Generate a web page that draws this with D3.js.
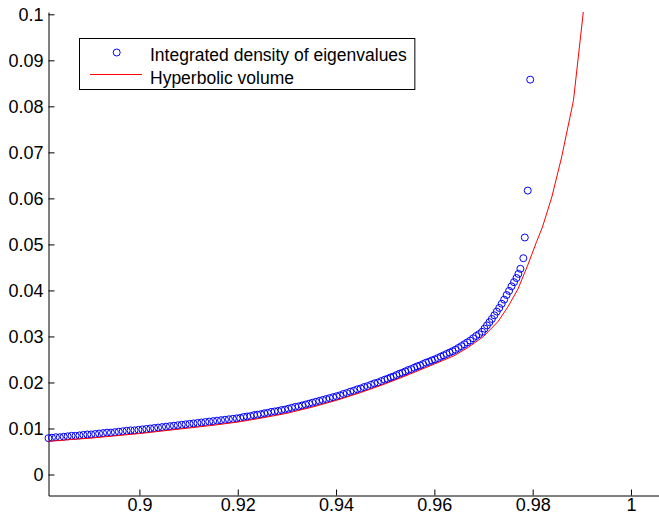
<!DOCTYPE html>
<html>
<head>
<meta charset="utf-8">
<script src="https://cdn.jsdelivr.net/npm/d3@7"></script>
<style>
  html, body { margin: 0; padding: 0; background: #fff; }
  svg { display: block; }
  text { font-family: "Liberation Sans", Arial, Helvetica, sans-serif; fill: #000; }
</style>
</head>
<body>
<div id="chart"></div>
<script>
// eigenvalue points (circles)
const eigX = [
  0.8815, 0.8822, 0.8830, 0.8838, 0.8846, 0.8854, 0.8862, 0.8870, 0.8878, 0.8886,
  0.8894, 0.8902, 0.8910, 0.8918, 0.8926, 0.8934, 0.8942, 0.8950, 0.8958, 0.8966,
  0.8974, 0.8982, 0.8990, 0.8998, 0.9006, 0.9014, 0.9022, 0.9030, 0.9038, 0.9046,
  0.9054, 0.9062, 0.9070, 0.9078, 0.9086, 0.9094, 0.9102, 0.9110, 0.9118, 0.9126,
  0.9134, 0.9142, 0.9150, 0.9158, 0.9166, 0.9174, 0.9182, 0.9190, 0.9198,
  0.9205, 0.9212, 0.9219, 0.9226, 0.9233, 0.9240, 0.9247, 0.9254, 0.9261, 0.9268,
  0.9275, 0.9282, 0.9289, 0.9296, 0.9303, 0.9310, 0.9317, 0.9324, 0.9331, 0.9338,
  0.9345, 0.9352, 0.9359, 0.9366, 0.9373, 0.9380, 0.9387, 0.9394, 0.9401, 0.9408,
  0.9415, 0.9422, 0.9429, 0.9436, 0.9443, 0.9450, 0.9457, 0.9464, 0.9471, 0.9478,
  0.9485, 0.9492, 0.9499,
  0.9505, 0.9511, 0.9517, 0.9523, 0.9529, 0.9535, 0.9541, 0.9547, 0.9553, 0.9559,
  0.9565, 0.9571, 0.9577, 0.9583, 0.9589, 0.9595, 0.9601, 0.9607, 0.9613, 0.9619,
  0.9625, 0.9631, 0.9637, 0.9643, 0.9649, 0.9655, 0.9661, 0.9667, 0.9673, 0.9679,
  0.9685, 0.9691, 0.9697,
  0.9702, 0.9707, 0.9712, 0.9717, 0.9722, 0.9727, 0.9732, 0.9737, 0.9742, 0.9747,
  0.9752, 0.9757, 0.9762, 0.9767, 0.9771, 0.9775, 0.9781, 0.9784, 0.9790, 0.9795
];
const eigY = [
  0.0079, 0.0080, 0.0081, 0.0081, 0.0082, 0.0083, 0.0084, 0.0084, 0.0085, 0.0086,
  0.0087, 0.0087, 0.0088, 0.0089, 0.0090, 0.0091, 0.0091, 0.0092, 0.0093, 0.0094,
  0.0095, 0.0096, 0.0096, 0.0097, 0.0098, 0.0099, 0.0100, 0.0101, 0.0102, 0.0103,
  0.0104, 0.0105, 0.0106, 0.0107, 0.0108, 0.0109, 0.0110, 0.0111, 0.0112, 0.0113,
  0.0114, 0.0115, 0.0116, 0.0117, 0.0118, 0.0119, 0.0120, 0.0121, 0.0122,
  0.0123, 0.0125, 0.0126, 0.0127, 0.0129, 0.0130, 0.0131, 0.0133, 0.0134, 0.0136,
  0.0137, 0.0138, 0.0140, 0.0141, 0.0143, 0.0145, 0.0147, 0.0148, 0.0150, 0.0152,
  0.0154, 0.0156, 0.0158, 0.0160, 0.0162, 0.0164, 0.0166, 0.0168, 0.0170, 0.0172,
  0.0175, 0.0177, 0.0180, 0.0182, 0.0185, 0.0187, 0.0190, 0.0192, 0.0195, 0.0198,
  0.0200, 0.0203, 0.0206,
  0.0208, 0.0211, 0.0213, 0.0216, 0.0219, 0.0221, 0.0224, 0.0227, 0.0229, 0.0232,
  0.0235, 0.0237, 0.0240, 0.0243, 0.0245, 0.0248, 0.0250, 0.0253, 0.0256, 0.0259,
  0.0262, 0.0265, 0.0268, 0.0271, 0.0275, 0.0279, 0.0283, 0.0287, 0.0291, 0.0296,
  0.0301, 0.0305, 0.0310,
  0.0317, 0.0324, 0.0331, 0.0338, 0.0346, 0.0354, 0.0362, 0.0371, 0.0380, 0.0390,
  0.0399, 0.0409, 0.0418, 0.0427, 0.0436, 0.0447, 0.0470, 0.0515, 0.0617, 0.0858
];

// hyperbolic volume curve (red)
const volX = [
  0.8815, 0.8860, 0.8900, 0.8950, 0.9000, 0.9050, 0.9100, 0.9150, 0.9200, 0.9250,
  0.9300, 0.9350, 0.9400, 0.9450, 0.9500, 0.9550, 0.9600, 0.9640, 0.9670, 0.9700,
  0.9730, 0.9750, 0.9770, 0.9790, 0.9808, 0.9820, 0.9839, 0.9859, 0.9883, 0.9903
];
const volY = [
  0.0072, 0.0076, 0.0079, 0.0084, 0.0089, 0.0095, 0.0101, 0.0107, 0.0114, 0.0123,
  0.0133, 0.0146, 0.0161, 0.0178, 0.0197, 0.0218, 0.0240, 0.0258, 0.0277, 0.0300,
  0.0333, 0.0365, 0.0403, 0.0455, 0.0506, 0.0538, 0.0603, 0.0690, 0.0813, 0.1005
];

const xTicks = [0.9, 0.92, 0.94, 0.96, 0.98, 1];
const xTickLabels = ["0.9", "0.92", "0.94", "0.96", "0.98", "1"];
const yTicks = [0, 0.01, 0.02, 0.03, 0.04, 0.05, 0.06, 0.07, 0.08, 0.09, 0.1];
const yTickLabels = ["0", "0.01", "0.02", "0.03", "0.04", "0.05", "0.06", "0.07", "0.08", "0.09", "0.1"];

const legendLabels = ["Integrated density of eigenvalues", "Hyperbolic volume"];

const W = 659, H = 518;
const plotL = 48.5, plotR = 659, plotT = 12, plotB = 495.5;

const svg = d3.select("#chart").append("svg")
  .attr("width", W)
  .attr("height", H)
  .attr("viewBox", `0 0 ${W} ${H}`);

const x = d3.scaleLinear().domain([0.8815, 1.0057]).range([plotL, plotR]);
const y = d3.scaleLinear().domain([-0.00456, 0.1005]).range([plotB, plotT]);

// axes (MATLAB style: ticks pointing inward, no box)
const xAxis = d3.axisBottom(x)
  .tickValues(xTicks)
  .tickFormat((d, i) => xTickLabels[i])
  .tickSizeInner(-6)
  .tickSizeOuter(0)
  .tickPadding(2.5);

const yAxis = d3.axisLeft(y)
  .tickValues(yTicks)
  .tickFormat((d, i) => yTickLabels[i])
  .tickSizeInner(-6)
  .tickSizeOuter(0)
  .tickPadding(5);

const gx = svg.append("g").attr("transform", `translate(0,${plotB})`).call(xAxis);
const gy = svg.append("g").attr("transform", `translate(${plotL},0)`).call(yAxis);

[gx, gy].forEach(g => {
  g.select(".domain").attr("stroke", "#000").attr("stroke-width", 1);
  g.selectAll(".tick line").attr("stroke", "#000").attr("stroke-width", 1);
  g.selectAll(".tick text")
    .attr("fill", "#000")
    .style("font-family", "\"Liberation Sans\", Arial, Helvetica, sans-serif")
    .style("font-size", "18px");
});

// circles
const pts = eigX.map((v, i) => ({ x: v, y: eigY[i] }));
svg.append("g")
  .selectAll("circle")
  .data(pts)
  .join("circle")
  .attr("cx", d => x(d.x))
  .attr("cy", d => y(d.y))
  .attr("r", 3.5)
  .attr("fill", "none")
  .attr("stroke", "#0000ff")
  .attr("stroke-width", 1);

// red curve
const vol = volX.map((v, i) => ({ x: v, y: volY[i] }));
svg.append("path")
  .datum(vol)
  .attr("fill", "none")
  .attr("stroke", "#ff0000")
  .attr("stroke-width", 1)
  .attr("d", d3.line().x(d => x(d.x)).y(d => y(d.y)));

// legend
const lg = svg.append("g");
const box = lg.append("rect")
  .attr("x", 79.5).attr("y", 38.5)
  .attr("height", 51)
  .attr("fill", "#fff")
  .attr("stroke", "#000")
  .attr("stroke-width", 1);

lg.append("circle")
  .attr("cx", 116.7).attr("cy", 52.5)
  .attr("r", 3.5)
  .attr("fill", "none")
  .attr("stroke", "#0000ff");

lg.append("line")
  .attr("x1", 90).attr("x2", 142)
  .attr("y1", 74.5).attr("y2", 74.5)
  .attr("stroke", "#ff0000");

const labels = lg.selectAll("text.lab")
  .data(legendLabels)
  .join("text")
  .attr("class", "lab")
  .attr("x", 150)
  .attr("y", (d, i) => i === 0 ? 61 : 84.3)
  .style("font-size", "17.5px")
  .text(d => d);

let maxW = 0;
labels.each(function () { maxW = Math.max(maxW, this.getComputedTextLength()); });
box.attr("width", 150 + maxW + 8 - 79.5);
</script>
</body>
</html>
